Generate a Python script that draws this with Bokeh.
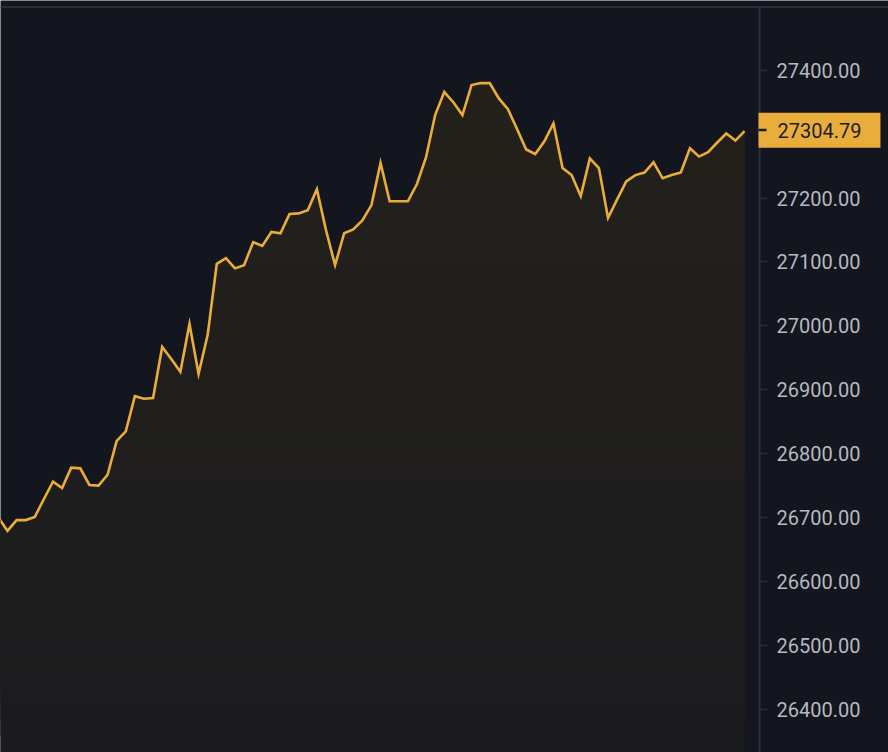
import numpy as np
from bokeh.plotting import figure
from bokeh.models import (Range1d, FixedTicker, NumeralTickFormatter, Label,
                          Arrow, LinearAxis, Span)
from bokeh.embed import file_html
from bokeh.resources import INLINE

# ---- data (price samples, oldest first) ----
prices = [26700, 26679, 26696, 26696, 26701, 26729, 26756, 26746, 26778, 26777,
          26751, 26750, 26767, 26820, 26835, 26890, 26886, 26887, 26967, 26948,
          26928, 27003, 26925, 26986, 27097, 27106, 27090, 27095, 27131, 27125,
          27147, 27145, 27175, 27176, 27181, 27214, 27150, 27095, 27145, 27151,
          27165, 27189, 27255, 27195, 27195, 27195, 27222, 27264, 27330, 27366,
          27350, 27330, 27377, 27380, 27380, 27356, 27339, 27308, 27276, 27269,
          27289, 27317, 27247, 27236, 27203, 27262, 27247, 27169, 27198, 27226,
          27236, 27240, 27256, 27231, 27236, 27240, 27278, 27265, 27272, 27287,
          27301, 27290, 27304.79]
steps = list(range(-1, len(prices) - 1))
tick_values = [26400, 26500, 26600, 26700, 26800, 26900, 27000, 27100, 27200, 27300, 27400]
last_price = prices[-1]

# ---- style ----
BG = "#13161E"
AXIS = "#2A2E39"
LINE = "#EAAD38"
BOX = "#E9AD3B"
DARK = "#1B1D23"
TICK_TXT = "#B5B9C1"
FILL_BOT = (27, 27, 30)
FILL_TOP = (36, 33, 27)

W, H = 888, 752
AXIS_X = 759          # pixel column of the price axis
px_per = 9.099        # pixels per sample
ppu = 0.6389          # pixels per price unit
x0 = -7 / px_per
x1 = x0 + W / px_per
y_top = 27400 + 69.8 / ppu
y0 = 26400 - (H - 708.7) / ppu


def y_at(py):
    return y_top - py / ppu


def x_at(px):
    return x0 + px / px_per


p = figure(width=W, height=H, output_backend="svg", toolbar_location=None,
           x_range=Range1d(x0, x1), y_range=Range1d(y0, y_top),
           x_axis_location=None, y_axis_location=None,
           min_border_left=0, min_border_right=0,
           min_border_top=0, min_border_bottom=0,
           background_fill_color=BG, border_fill_color=BG,
           outline_line_color=None)
p.grid.visible = False

# area under the line: opaque bands, each from its level up to the line
K = 40
pr = np.array(prices, dtype=float)
levels = np.linspace(y0, pr.max(), K, endpoint=False)
cb = np.array(FILL_BOT, dtype=float)
ct = np.array(FILL_TOP, dtype=float)
for L in levels:
    t = (L - y0) / (pr.max() - y0)
    c = np.round(cb + t * (ct - cb)).astype(int)
    col = "#%02x%02x%02x" % tuple(c)
    p.varea(x=steps, y1=prices, y2=np.minimum(pr, L), fill_color=col,
            fill_alpha=1.0)

p.line(steps, prices, line_color=LINE, line_width=2.6, line_join="miter")

# price axis
ax = LinearAxis(fixed_location=x_at(AXIS_X), bounds=(y0, y_at(7)))
ax.ticker = FixedTicker(ticks=tick_values)
ax.formatter = NumeralTickFormatter(format="0.00")
ax.axis_line_color = AXIS
ax.axis_line_width = 2
ax.major_tick_line_color = AXIS
ax.major_tick_line_width = 1.5
ax.major_tick_out = 8
ax.major_tick_in = 0
ax.minor_tick_line_color = None
ax.major_label_text_font = "Roboto"
ax.major_label_text_font_size = "20px"
ax.major_label_text_color = TICK_TXT
ax.major_label_standoff = 9
p.add_layout(ax, "right")

# top border line
p.add_layout(Span(location=y_at(6.5), dimension="width", line_color=AXIS,
                  line_width=2))

# last price tag
p.add_layout(Label(x=x_at(758), y=y_at(129.8),
                   text=f"{last_price:.2f}", text_font="Roboto",
                   text_font_size="20px", text_color=DARK,
                   text_align="left", text_baseline="middle",
                   background_fill_color=BOX,
                   padding=dict(left=19, right=19, top=10, bottom=10)))
p.add_layout(Arrow(x_start=x_at(758), x_end=x_at(766),
                   y_start=y_at(129.5), y_end=y_at(129.5),
                   start=None, end=None, line_color=DARK, line_width=2.5))

open("out.html", "w").write(file_html(p, INLINE))
